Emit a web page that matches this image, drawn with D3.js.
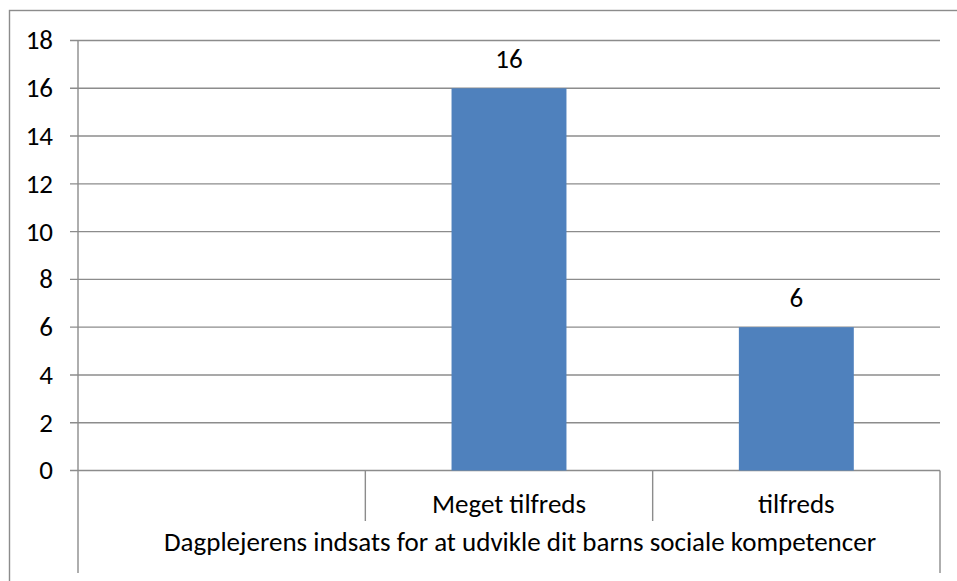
<!DOCTYPE html>
<head>
<meta charset="utf-8">
<script src="https://d3js.org/d3.v7.min.js"></script>
<style>
    body { margin: 0; background: #fff; }
    text {
        font-family: Carlito, Calibri, "Liberation Sans", Arial, sans-serif;
        fill: #000;
        font-size: 27px;
    }
    .grid line { stroke: #8c8c8c; stroke-width: 1.4px; }
    .axisline { stroke: #8c8c8c; stroke-width: 1.4px; fill: none; }
    .bar { fill: #4f81bd; }
</style>
</head>
<body>
<svg width="957" height="581"></svg>
<script>
    // data
    var categories = ["", "Meget tilfreds", "tilfreds"];
    var counts = [null, 16, 6];
    var groupLabel = "Dagplejerens indsats for at udvikle dit barns sociale kompetencer";
    var yTicks = [0, 2, 4, 6, 8, 10, 12, 14, 16, 18];

    var svg = d3.select("svg");

    // outer frame (only top/left visible)
    svg.append("rect")
        .attr("x", 9.5).attr("y", 10.5)
        .attr("width", 1000).attr("height", 1000)
        .attr("fill", "none")
        .attr("stroke", "#8c8c8c")
        .attr("stroke-width", 1.4);

    var x = d3.scaleBand()
        .domain(categories)
        .range([78, 940])
        .padding(0);

    var y = d3.scaleLinear()
        .domain([0, 18])
        .range([470.5, 40.5]);

    // gridlines + tick marks
    var grid = svg.append("g").attr("class", "grid");
    grid.selectAll("line")
        .data(yTicks)
        .enter().append("line")
        .attr("x1", 70).attr("x2", 940)
        .attr("y1", function(d) { return y(d); })
        .attr("y2", function(d) { return y(d); });

    // y tick labels
    svg.append("g").selectAll("text")
        .data(yTicks)
        .enter().append("text")
        .attr("x", 53)
        .attr("y", function(d) { return y(d); })
        .attr("dy", "0.33em")
        .style("text-anchor", "end")
        .text(function(d) { return d; });

    // bars
    var bw = x.bandwidth() * 0.4;
    var data = categories.map(function(c, i) { return {cat: c, v: counts[i]}; })
        .filter(function(d) { return d.v != null; });

    svg.append("g").selectAll("rect")
        .data(data)
        .enter().append("rect")
        .attr("class", "bar")
        .attr("x", function(d) { return x(d.cat) + (x.bandwidth() - bw) / 2; })
        .attr("width", bw)
        .attr("y", function(d) { return y(d.v); })
        .attr("height", function(d) { return y(0) - y(d.v); });

    // value labels
    svg.append("g").selectAll("text")
        .data(data)
        .enter().append("text")
        .attr("x", function(d) { return x(d.cat) + x.bandwidth() / 2; })
        .attr("y", function(d) { return y(d.v) - 20; })
        .style("text-anchor", "middle")
        .text(function(d) { return d.v; });

    // axes lines
    var y0 = y(0);
    svg.append("line").attr("class", "axisline")
        .attr("x1", 78).attr("x2", 78).attr("y1", y(18)).attr("y2", 573);
    svg.append("line").attr("class", "axisline")
        .attr("x1", 940).attr("x2", 940).attr("y1", y0).attr("y2", 573);

    // category separators
    svg.append("g").selectAll("line")
        .data(categories.slice(1))
        .enter().append("line")
        .attr("class", "axisline")
        .attr("x1", function(d) { return x(d); })
        .attr("x2", function(d) { return x(d); })
        .attr("y1", y0).attr("y2", 521);

    // category labels
    svg.append("g").selectAll("text")
        .data(categories)
        .enter().append("text")
        .attr("x", function(d) { return x(d) + x.bandwidth() / 2; })
        .attr("y", 513)
        .style("text-anchor", "middle")
        .text(function(d) { return d; });

    // group label
    svg.append("text")
        .attr("x", 520)
        .attr("y", 551)
        .style("text-anchor", "middle")
        .text(groupLabel);
</script>
</body>
